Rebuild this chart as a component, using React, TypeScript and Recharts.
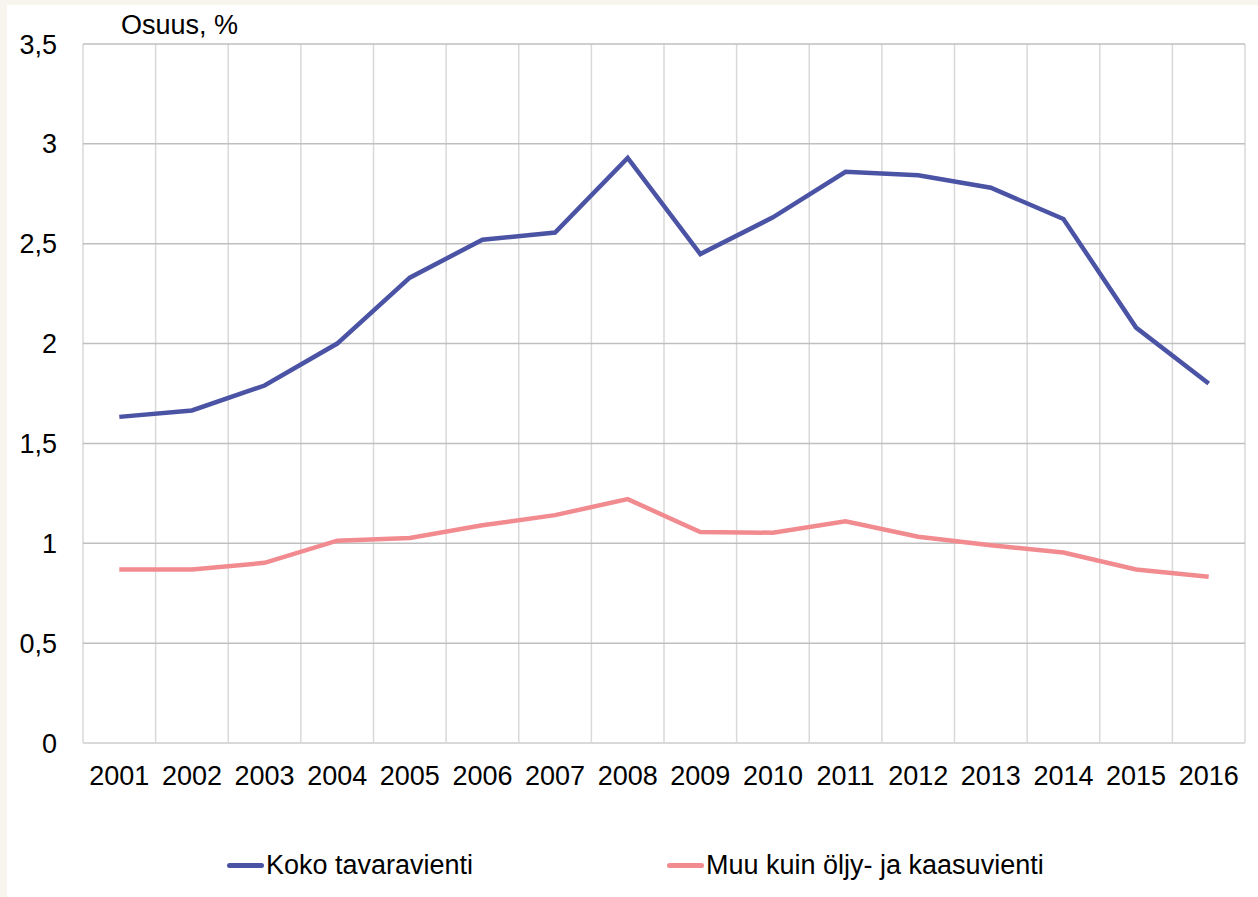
import React from "react";
import { LineChart, Line, XAxis, YAxis, CartesianGrid, Legend } from "recharts";

const years = ["2001","2002","2003","2004","2005","2006","2007","2008","2009","2010","2011","2012","2013","2014","2015","2016"];
const kokoTavaravienti = [1.633, 1.665, 1.79, 2.0, 2.33, 2.52, 2.556, 2.93, 2.448, 2.632, 2.86, 2.843, 2.78, 2.624, 2.08, 1.80];
const muuKuinOljyJaKaasu = [0.869, 0.869, 0.902, 1.013, 1.027, 1.09, 1.141, 1.221, 1.056, 1.053, 1.11, 1.033, 0.99, 0.954, 0.869, 0.832];
const yTicks = [0, 0.5, 1, 1.5, 2, 2.5, 3, 3.5];
const gridTicks = [0,1,2,3,4,5,6,7,8,9,10,11,12,13,14,15,16];

const seriesNames = ["Koko tavaravienti", "Muu kuin öljy- ja kaasuvienti"];
const seriesColors = ["#4b53a5", "#f28b90"];

const data = years.map((y, i) => ({
  year: y,
  idx: i + 0.5,
  koko: kokoTavaravienti[i],
  muu: muuKuinOljyJaKaasu[i],
}));

const FONT = '"Liberation Sans", Arial, sans-serif';

const LegendContent = (props: any) => {
  const payload = props.payload || [];
  return (
    <div style={{ display: "flex", fontFamily: FONT, fontSize: 27, color: "#000", paddingLeft: 220 }}>
      {payload.map((p: any, i: number) => (
        <div key={i} style={{ width: 440, display: "flex", alignItems: "center" }}>
          <div style={{ width: 37, height: 5, borderRadius: 3, background: p.color, marginRight: 2 }} />
          <span style={{ lineHeight: "30px" }}>{p.value}</span>
        </div>
      ))}
    </div>
  );
};

export default function App() {
  return (
    <div style={{ position: "absolute", left: 0, top: 0, width: 1258, height: 897, background: "#f8f4ee", overflow: "hidden" }}>
      <div style={{ position: "absolute", left: 7, top: 5, width: 1251, height: 892, background: "#ffffff" }}>
        <div style={{ position: "absolute", left: 114, top: 7, fontFamily: FONT, fontSize: 27, lineHeight: "27px", color: "#000", whiteSpace: "nowrap" }}>
          Osuus, %
        </div>
        <LineChart width={1251} height={892} data={data} margin={{ top: 39, right: 13, left: 0, bottom: 0 }}>
          <XAxis xAxisId="grid" dataKey="idx" type="number" domain={[0, 16]} ticks={gridTicks} hide />
          <CartesianGrid xAxisId="grid" horizontal={false} vertical={true} stroke="#d9d9d9" strokeWidth={1.5} />
          <CartesianGrid horizontal={true} vertical={false} stroke="#bfbfbf" strokeWidth={1.5} />
          <XAxis
            dataKey="year"
            scale="band"
            height={124}
            tickLine={false}
            tickSize={6}
            tickMargin={17}
            axisLine={{ stroke: "#d9d9d9", strokeWidth: 2 }}
            interval={0}
            tick={{ fill: "#000", fontSize: 27, fontFamily: FONT }}
          />
          <YAxis
            width={76}
            domain={[0, 3.5]}
            ticks={yTicks}
            axisLine={false}
            tickLine={false}
            tickSize={6}
            tickMargin={20}
            tickFormatter={(v: number) => String(v).replace(".", ",")}
            tick={{ fill: "#000", fontSize: 27, fontFamily: FONT }}
          />
          <Line dataKey="koko" name={seriesNames[0]} stroke={seriesColors[0]} strokeWidth={4.5} dot={false} isAnimationActive={false} type="linear" />
          <Line dataKey="muu" name={seriesNames[1]} stroke={seriesColors[1]} strokeWidth={4.5} dot={false} isAnimationActive={false} type="linear" />
          <Legend
            content={<LegendContent />}
            wrapperStyle={{ position: "absolute", left: 0, top: 845, width: 1251 }}
          />
        </LineChart>
      </div>
    </div>
  );
}
